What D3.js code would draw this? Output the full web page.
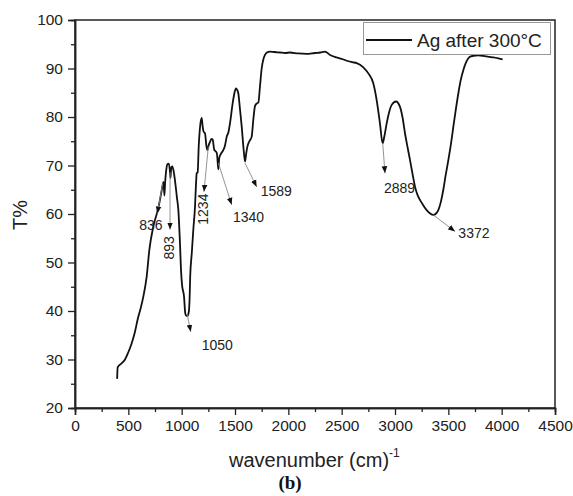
<!DOCTYPE html>
<html><head><meta charset="utf-8">
<script src="https://cdn.jsdelivr.net/npm/d3@7"></script>
<style>body{margin:0;background:#fff}svg{display:block}</style>
</head><body>
<svg id="c" width="573" height="496" font-family='"Liberation Sans",Arial,sans-serif'></svg>
<script>
const wavenumber = [395,400,437,469,500,531,560,590,615,641,672,697,734,781,813,822,830,838,845,855,868,880,889,895,902,912,925,937,955,969,984,995,1003,1022,1034,1045,1055,1068,1075,1080,1095,1110,1125,1134,1141,1150,1160,1175,1188,1197,1205,1219,1232,1241,1255,1266,1280,1291,1306,1320,1330,1340,1344,1352,1365,1391,1405,1422,1440,1453,1478,1495,1509,1520,1531,1545,1563,1580,1594,1605,1616,1635,1656,1672,1688,1705,1719,1735,1750,1765,1781,1800,1828,1870,1922,1970,2016,2090,2172,2250,2300,2344,2391,2450,2500,2547,2600,2641,2700,2750,2797,2828,2859,2884,2900,2922,2945,2969,3009,3047,3070,3094,3120,3141,3165,3188,3210,3234,3265,3297,3330,3359,3380,3406,3430,3453,3475,3500,3525,3547,3570,3594,3615,3641,3665,3688,3710,3734,3780,3828,3880,3922,3970,4009];
const transmittance = [26.0,28.4,29.2,30.0,31.5,33.3,35.5,38.5,40.5,43.0,47.1,52.6,57.4,61.2,64.9,66.0,66.6,63.8,66.5,69.0,70.3,70.4,69.0,67.4,69.5,69.8,68.8,67.0,63.5,60.8,54.0,48.0,45.5,43.0,39.5,39.0,39.0,40.0,43.0,47.1,52.0,57.0,61.5,66.0,68.4,68.6,74.0,78.5,79.8,78.0,77.0,76.6,74.0,73.2,74.3,74.9,75.5,75.3,73.2,72.9,72.5,70.0,69.2,71.5,72.3,73.2,74.0,75.9,77.0,78.7,82.8,85.0,85.9,85.6,84.9,82.0,78.0,73.5,70.8,72.5,73.9,75.0,75.9,79.5,82.3,82.8,83.0,86.5,90.0,91.8,92.8,93.3,93.5,93.4,93.3,93.2,93.3,93.1,93.0,93.2,93.3,93.5,92.8,92.3,92.0,91.6,91.3,91.1,90.3,89.0,86.9,83.5,78.7,74.6,76.0,78.7,81.0,82.5,83.2,82.1,80.0,76.6,73.5,71.1,68.2,65.6,64.0,62.9,61.8,60.8,60.1,59.8,60.0,60.8,62.5,65.0,68.0,71.1,74.5,78.0,81.5,84.9,87.5,89.7,91.2,92.1,92.5,92.6,92.7,92.6,92.4,92.3,92.1,91.9];
const seriesName = "Ag after 300°C";
const xTicks = [0,500,1000,1500,2000,2500,3000,3500,4000,4500];
const yTicks = [20,30,40,50,60,70,80,90,100];
// annotations: label, arrow start (x,y), arrow end (x,y), label point (x,y), rotated?
const peakLabels = ["836","893","1050","1234","1340","1589","2889","3372"];
const arrowFrom = [[822,66.3],[891,68.6],[1053,39.2],[1250,73.9],[1344,70.5],[1594,70.5],[2885,74.6],[3359,59.8]];
const arrowTo   = [[772,60.1],[891,56.8],[1085,35.7],[1209,64.6],[1469,61.9],[1703,65.6],[2906,68.4],[3563,56.4]];
const labelAt   = [[712,57.7],[881,53.0],[1188,33.0],[1203,61.0],[1481,59.4],[1741,64.7],[2897,65.3],[3594,56.1]];
const labelRot  = [false,true,false,true,false,false,false,false];

const svg = d3.select("#c");
const L=75,R=555,T=20,B=408;
const x = d3.scaleLinear().domain([0,4500]).range([L,R]);
const y = d3.scaleLinear().domain([20,100]).range([B,T]);
const axisCol="#222";

// frame
svg.append("rect").attr("x",L).attr("y",T).attr("width",R-L).attr("height",B-T)
  .attr("fill","none").attr("stroke",axisCol).attr("stroke-width",1.5);

// x axis
svg.append("g").attr("transform",`translate(0,${B})`)
  .call(d3.axisBottom(x).tickValues(xTicks).tickSize(7).tickPadding(5).tickFormat(d3.format("d")));
svg.append("g").attr("transform",`translate(0,${B})`)
  .call(d3.axisBottom(x).tickValues(d3.range(250,4500,500)).tickSize(4).tickFormat(""));
// y axis
svg.append("g").attr("transform",`translate(${L},0)`)
  .call(d3.axisLeft(y).tickValues(yTicks).tickSize(7).tickPadding(5));
svg.append("g").attr("transform",`translate(${L},0)`)
  .call(d3.axisLeft(y).tickValues(d3.range(25,100,10)).tickSize(4).tickFormat(""));
svg.selectAll(".domain").attr("stroke",axisCol).attr("stroke-width",1.5);
svg.selectAll(".tick line").attr("stroke",axisCol).attr("stroke-width",1.3);
svg.selectAll("g").attr("font-family",null);
svg.selectAll(".tick text").attr("font-size",15.5).attr("fill","#222");

// spectrum
const pts = wavenumber.map((w,i)=>[w,transmittance[i]]);
svg.append("path").datum(pts)
  .attr("d",d3.line().x(d=>x(d[0])).y(d=>y(d[1])).curve(d3.curveMonotoneX))
  .attr("fill","none").attr("stroke","#111").attr("stroke-width",1.8).attr("stroke-linejoin","round");

// arrow marker
svg.append("defs").append("marker").attr("id","ah").attr("viewBox","0 0 10 10")
  .attr("refX",10).attr("refY",5).attr("markerWidth",7).attr("markerHeight",7)
  .attr("markerUnits","userSpaceOnUse").attr("orient","auto")
  .append("path").attr("d","M0,1 L10,5 L0,9 Z").attr("fill","#111");

peakLabels.forEach((lab,i)=>{
  svg.append("line")
    .attr("x1",x(arrowFrom[i][0])).attr("y1",y(arrowFrom[i][1]))
    .attr("x2",x(arrowTo[i][0])).attr("y2",y(arrowTo[i][1]))
    .attr("stroke","#888").attr("stroke-width",0.9).attr("marker-end","url(#ah)");
  const lx=x(labelAt[i][0]), ly=y(labelAt[i][1]);
  const t=svg.append("text").text(lab).attr("font-size",14).attr("fill","#222")
    .attr("dominant-baseline","central");
  if(labelRot[i]){
    t.attr("text-anchor","middle").attr("transform",`translate(${lx},${ly}) rotate(-90)`);
  } else if(i===0){
    t.attr("text-anchor","middle").attr("x",lx).attr("y",ly);
  } else {
    t.attr("text-anchor","start").attr("x",lx).attr("y",ly);
  }
});

// legend
svg.append("rect").attr("x",363.5).attr("y",22.5).attr("width",187).attr("height",32)
  .attr("fill","#fff").attr("stroke","#999").attr("stroke-width",1);
svg.append("line").attr("x1",366).attr("x2",412).attr("y1",40).attr("y2",40)
  .attr("stroke","#111").attr("stroke-width",1.8);
svg.append("text").attr("x",417).attr("y",46.5).attr("font-size",19).attr("fill","#222").text(seriesName);

// axis titles
const xt = svg.append("text").attr("x",229).attr("y",467).attr("font-size",20).attr("fill","#222");
xt.append("tspan").text("wavenumber (cm)");
xt.append("tspan").attr("font-size",12).attr("dy",-10).text("-1");
svg.append("text").attr("transform","translate(27,215) rotate(-90)").attr("text-anchor","middle")
  .attr("font-size",20).attr("fill","#222").text("T%");
svg.append("text").attr("x",290).attr("y",489).attr("text-anchor","middle")
  .attr("font-family",'"Liberation Serif","Times New Roman",serif').attr("font-weight","bold")
  .attr("font-size",19).attr("fill","#111").text("(b)");
</script>
</body></html>
